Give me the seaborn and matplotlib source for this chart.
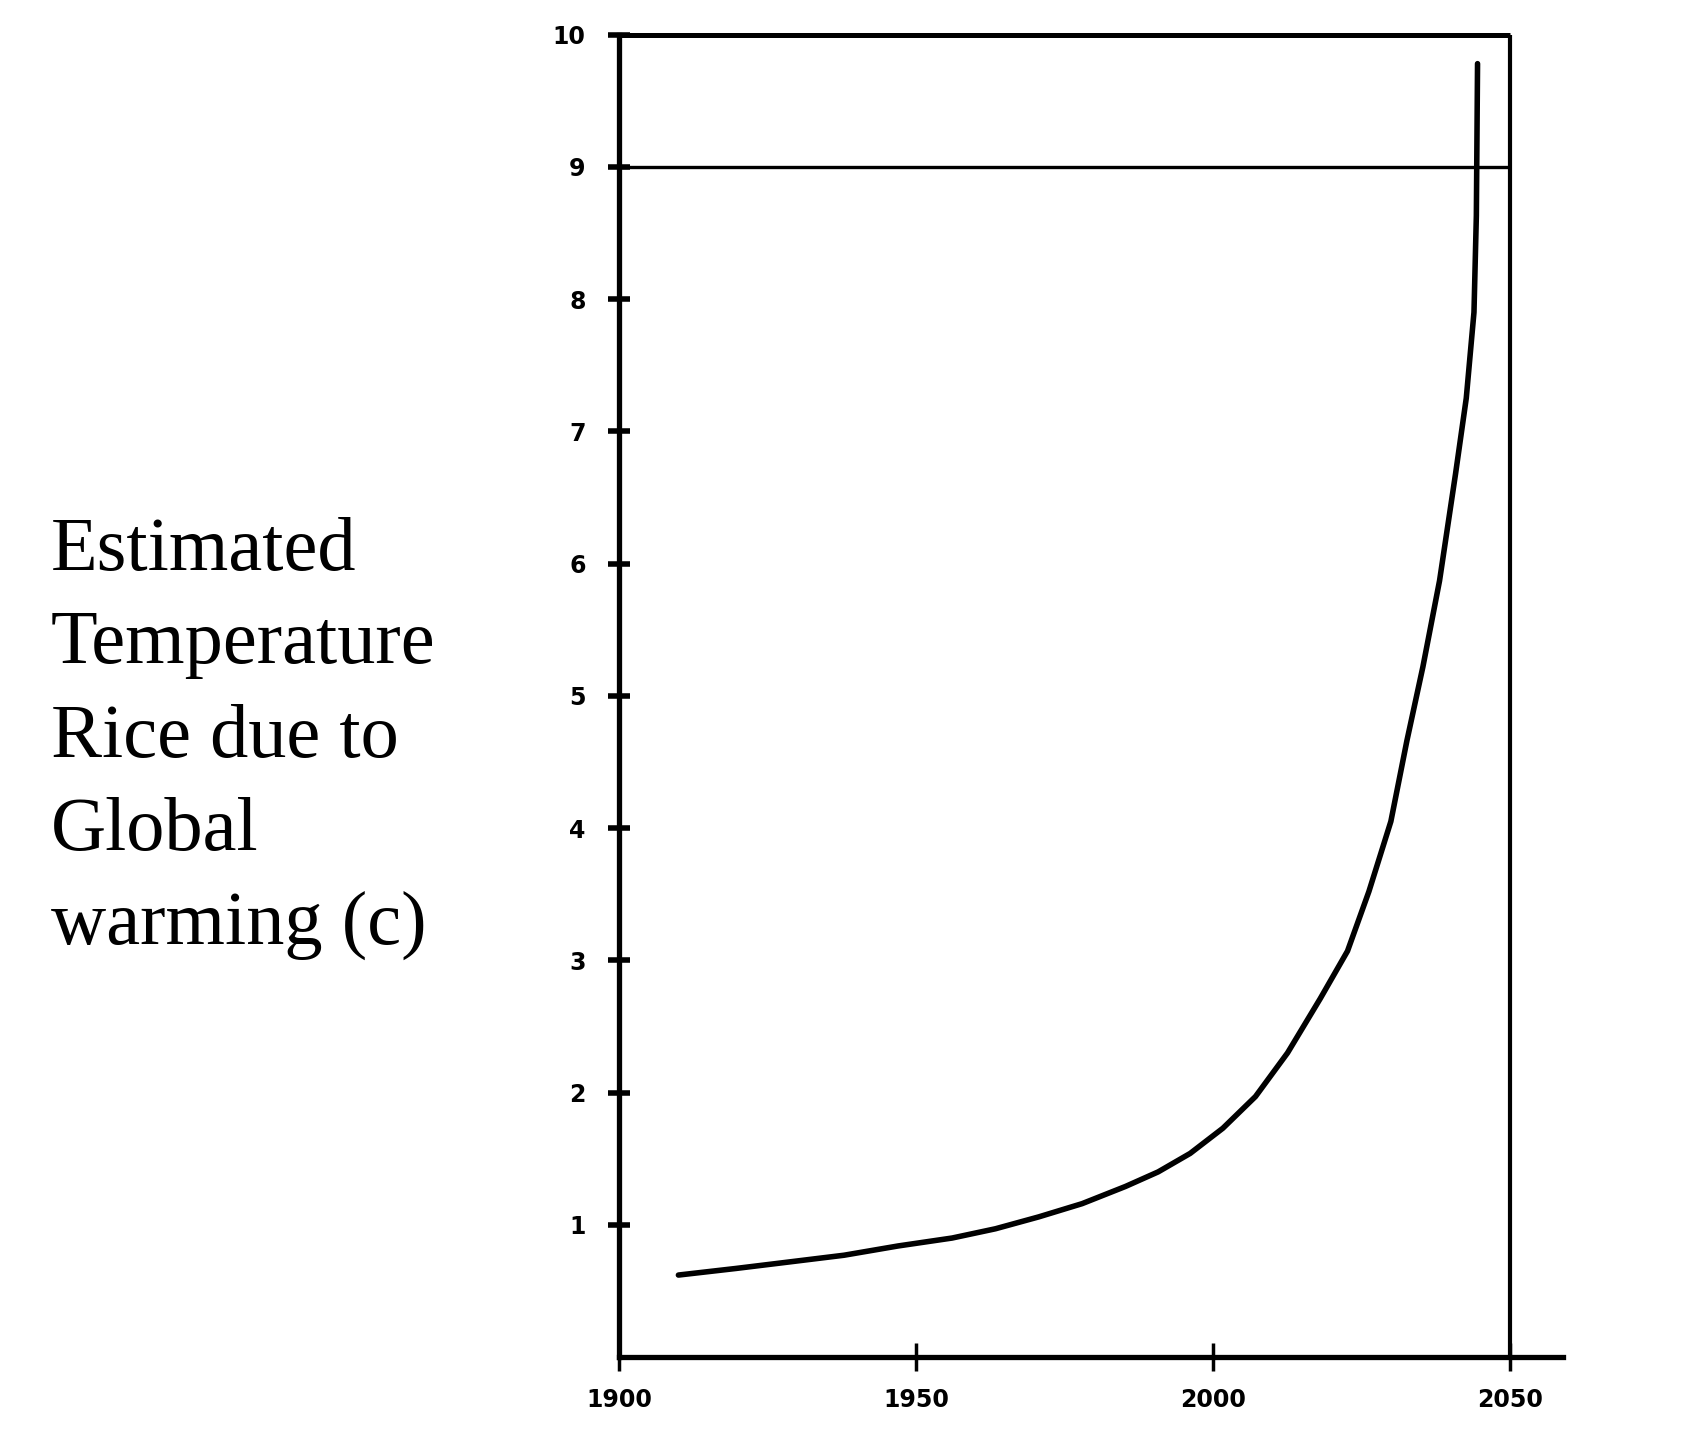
import numpy as np
import matplotlib
matplotlib.use("Agg")
import matplotlib.pyplot as plt
import seaborn as sns
import pandas as pd

# curve
years = [1910.0, 1919.7, 1927.0, 1937.9, 1947.0, 1956.1, 1963.4, 1970.7, 1978.0,
         1985.3, 1990.8, 1996.2, 2001.7, 2007.2, 2012.6, 2018.1, 2022.7, 2026.3,
         2030.0, 2032.7, 2035.4, 2038.2, 2040.9, 2042.7, 2044.0, 2044.4, 2044.6]
temp_rise = [0.62, 0.67, 0.71, 0.77, 0.84, 0.90, 0.97, 1.06, 1.16,
             1.29, 1.40, 1.54, 1.73, 1.97, 2.30, 2.71, 3.07, 3.52,
             4.05, 4.66, 5.22, 5.87, 6.68, 7.25, 7.90, 8.63, 9.78]

x_ticks = [1900, 1950, 2000, 2050]
x_tick_labels = ["1900", "1950", "2000", "2050"]
y_ticks = [1, 2, 3, 4, 5, 6, 7, 8, 9, 10]
limit_line = 9
label_text = "Estimated\nTemperature\nRice due to\nGlobal\nwarming (c)"

df = pd.DataFrame({"year": years, "rise": temp_rise})

sns.set_style("white")
plt.rcParams['font.family'] = ['DejaVu Sans']

fig = plt.figure(figsize=(16.96, 14.4), dpi=100)
ax = fig.add_axes([0.365, 0.0576, 0.5566, 0.9184])

sns.lineplot(data=df, x="year", y="rise", ax=ax, color="black", linewidth=4,
             estimator=None, sort=False)

ax.set_xlim(1900, 2059)
ax.set_ylim(0, 10)

# frame: top and right border only reach 2050, bottom axis runs past it
ax.hlines([10, limit_line], 1900, 2050, color="black", linewidth=[3.6, 2.4], clip_on=False)
ax.vlines(2050, 0, 10, color="black", linewidth=3.0, clip_on=False)

for side in ["top", "right"]:
    ax.spines[side].set_visible(False)
for side in ["left", "bottom"]:
    ax.spines[side].set_linewidth(3.8)
    ax.spines[side].set_color("black")

ax.set_xticks(x_ticks)
ax.set_xticklabels(x_tick_labels, fontsize=17, fontweight="bold", color="black")
ax.set_yticks(y_ticks)
ax.set_yticklabels([str(v) for v in y_ticks], fontsize=17, fontweight="bold", color="black")
ax.tick_params(axis="y", left=True, direction="inout", length=16, width=4, pad=16, color="black")
ax.tick_params(axis="x", bottom=True, direction="inout", length=20, width=2.5, pad=12, color="black")
ax.set_xlabel("")
ax.set_ylabel("")

fig.text(0.03, 0.641, label_text, family="Liberation Serif", fontsize=55, color="black",
         ha="left", va="top", linespacing=1.46)

fig.savefig("out.png", dpi=100, facecolor="white")
